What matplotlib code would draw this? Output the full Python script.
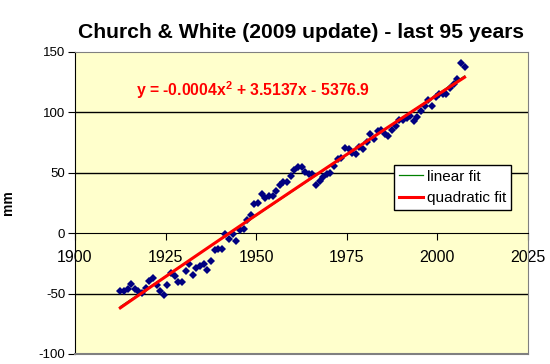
import numpy as np
import matplotlib
matplotlib.use("Agg")
import matplotlib.pyplot as plt

years = np.arange(1912.5, 2008.0, 1.0)
sea_level = [
    -48.0, -48.0, -45.8, -41.7, -45.8, -48.0, -49.9, -45.0, -39.7, -36.7,
    -42.5, -48.0, -50.8, -42.5, -32.8, -35.3, -40.3, -40.3, -31.5, -25.9,
    -34.2, -29.2, -27.0, -25.1, -30.1, -23.2, -14.1, -13.2, -12.7, -0.3,
    -4.4, -0.3, -6.1, 2.5, 3.3, 10.8, 15.4, 24.0, 24.6, 32.8,
    29.5, 30.6, 30.9, 34.8, 40.0, 42.5, 42.5, 47.0, 52.0, 55.0,
    54.4, 50.8, 49.0, 48.8, 40.3, 43.0, 46.6, 48.6, 50.2, 55.7,
    61.3, 62.6, 70.9, 70.1, 66.8, 65.4, 71.5, 70.1, 75.6, 82.5,
    77.8, 84.7, 85.8, 82.5, 80.6, 85.3, 88.8, 94.1, 94.1, 95.0,
    96.9, 92.7, 95.8, 101.0, 105.4, 110.1, 105.4, 112.8, 115.1, 115.6,
    115.1, 120.6, 123.9, 127.5, 141.3, 137.2,
]
x_ticks = [1900, 1925, 1950, 1975, 2000, 2025]
y_ticks = [-100, -50, 0, 50, 100, 150]
title = "Church & White (2009 update) - last 95 years"
equation = r"y = -0.0004x$^{\mathbf{2}}$ + 3.5137x - 5376.9"

sea_level = np.array(sea_level)
lin = np.polyval(np.polyfit(years, sea_level, 1), years)
quad = np.polyval(np.polyfit(years, sea_level, 2), years)

plt.rcParams['font.family'] = ['Liberation Sans', 'DejaVu Sans']
plt.rcParams['mathtext.fontset'] = 'custom'
plt.rcParams['mathtext.rm'] = 'Liberation Sans'
plt.rcParams['mathtext.bf'] = 'Liberation Sans:bold'
plt.rcParams['axes.unicode_minus'] = False

fig = plt.figure(figsize=(5.5, 3.64), dpi=100)
fig.patch.set_facecolor('white')
ax = fig.add_axes([75/550, 10/364, 453/550, 302/364])
ax.set_facecolor('#FFFFCC')

ax.set_xlim(1900, 2025)
ax.set_ylim(-100, 150)

for g in y_ticks:
    if -100 < g < 150 and g != 0:
        ax.axhline(g, color='black', lw=1.0, zorder=1)

ax.plot(years, sea_level, linestyle='none', marker='D', markersize=3.6,
        markeredgewidth=0, color='#000080', zorder=3)
l1, = ax.plot(years, lin, color='#008000', lw=0.9, zorder=4, label='linear fit')
l2, = ax.plot(years, quad, color='#FF0000', lw=2.2, zorder=5, label='quadratic fit')

ax.spines['bottom'].set_position(('data', 0))
ax.spines['bottom'].set_color('black')
ax.spines['left'].set_color('black')
ax.spines['top'].set_color('#808080')
ax.spines['right'].set_color('#808080')
ax.axhline(-100, color='#808080', lw=1.5, zorder=6, clip_on=False)

ax.set_xticks(x_ticks)
ax.set_yticks(y_ticks)
ax.tick_params(axis='x', direction='out', length=5, pad=7, labelsize=11.5, colors='black')
ax.tick_params(axis='y', direction='out', length=5, pad=2, labelsize=9.5, colors='black')

ax.set_title(title, fontsize=15.2, fontweight='bold', pad=10)
ax.set_ylabel('mm', fontsize=10, fontweight='bold')
ax.yaxis.set_label_coords(-0.132, 0.5)

ax.text(0.135, 0.874, equation, transform=ax.transAxes, color='#FF0000',
        fontsize=11.3, fontweight='bold', ha='left', va='center')

leg = ax.legend(handles=[l1, l2], loc='upper left', bbox_to_anchor=(0.704, 0.626),
                borderaxespad=0, fancybox=False, framealpha=1, edgecolor='black',
                fontsize=11, handlelength=1.57, handletextpad=0.28, borderpad=0.32,
                labelspacing=0.5)
leg.get_frame().set_linewidth(1.0)
leg.set_zorder(10)

fig.savefig('out.png', dpi=100)
